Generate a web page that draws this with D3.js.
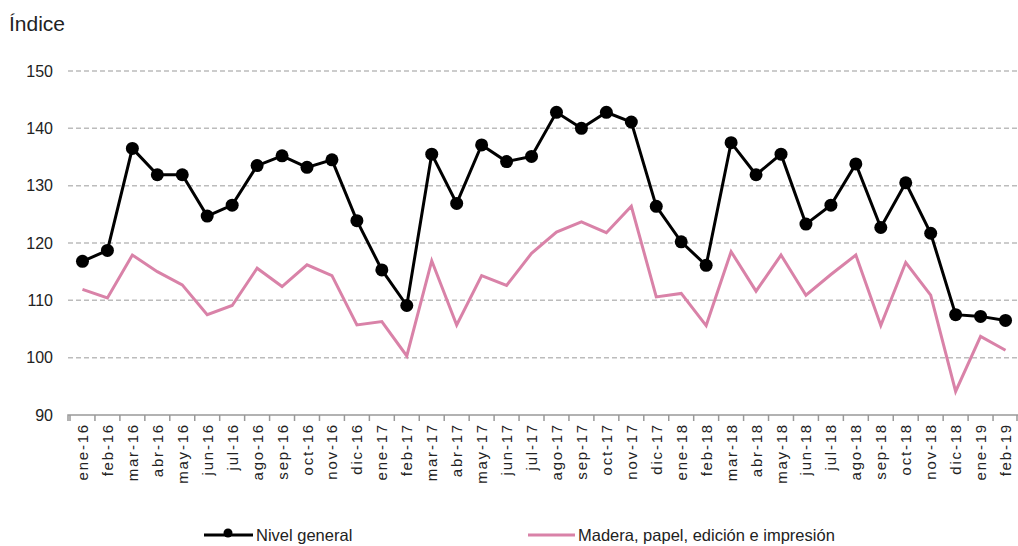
<!DOCTYPE html>
<html>
<head>
<meta charset="utf-8">
<script src="https://cdn.jsdelivr.net/npm/d3@7"></script>
<style>
  body { margin: 0; background: #fff; }
  text { font-family: "Liberation Sans", Arial, sans-serif; fill: #222; }
</style>
</head>
<body>
<div id="chart"></div>
<script>
// months shown on the x axis
var months = ["ene-16","feb-16","mar-16","abr-16","may-16","jun-16","jul-16","ago-16","sep-16","oct-16","nov-16","dic-16",
              "ene-17","feb-17","mar-17","abr-17","may-17","jun-17","jul-17","ago-17","sep-17","oct-17","nov-17","dic-17",
              "ene-18","feb-18","mar-18","abr-18","may-18","jun-18","jul-18","ago-18","sep-18","oct-18","nov-18","dic-18",
              "ene-19","feb-19"];
var nivelGeneral = [116.8,118.7,136.5,131.9,131.9,124.7,126.6,133.5,135.2,133.2,134.5,123.9,
                    115.3,109.1,135.5,126.9,137.1,134.2,135.1,142.8,140.0,142.8,141.1,126.4,
                    120.2,116.1,137.5,131.9,135.5,123.3,126.6,133.8,122.7,130.5,121.7,107.5,
                    107.2,106.5];
var madera = [111.9,110.4,117.9,115.0,112.7,107.5,109.1,115.6,112.4,116.2,114.3,105.7,
              106.3,100.3,116.9,105.7,114.3,112.6,118.2,121.9,123.7,121.8,126.4,110.6,
              111.2,105.6,118.5,111.6,117.9,110.9,114.5,117.9,105.6,116.6,110.9,94.1,
              103.7,101.3];
var yTicks = [90,100,110,120,130,140,150];
var seriesNames = ["Nivel general","Madera, papel, edición e impresión"];

var W = 1018, H = 546;
var margin = {top: 71, right: 0, bottom: 131, left: 68};
var pink = "#d982a8";

var svg = d3.select("#chart").append("svg").attr("width", W).attr("height", H);

var x = d3.scaleBand().domain(months).range([margin.left + 2, W]);
var y = d3.scaleLinear().domain([90, 150]).range([H - margin.bottom, margin.top]);

// title
svg.append("text").attr("x", 9).attr("y", 31).style("font-size", "21px").text("Índice");

// grid
svg.append("g").selectAll("line").data(yTicks.filter(function(d){ return d > 90; })).enter().append("line")
    .attr("x1", margin.left).attr("x2", W)
    .attr("y1", function(d){ return y(d); }).attr("y2", function(d){ return y(d); })
    .attr("stroke", "#bcbcbc").attr("stroke-width", 1.5).attr("stroke-dasharray", "5,3");

// y labels
svg.append("g").selectAll("text").data(yTicks).enter().append("text")
    .attr("x", 53).attr("y", function(d){ return y(d) + 5.5; })
    .attr("text-anchor", "end").style("font-size", "16px")
    .text(function(d){ return d; });

// x axis
var xAxis = d3.axisBottom(x).tickSize(6).tickFormat("");
var gx = svg.append("g").attr("transform", "translate(0," + y(90) + ")").call(xAxis);
gx.select(".domain").attr("stroke", "#999").attr("stroke-width", 1.5).attr("d", "M" + margin.left + ",6V0H" + W);
gx.selectAll(".tick line").attr("stroke", "#999").attr("stroke-width", 1.5)
    .attr("transform", "translate(" + (-x.bandwidth() / 2) + ",0)");
svg.append("line").attr("x1", W - 1).attr("x2", W - 1).attr("y1", y(90)).attr("y2", y(90) + 6)
    .attr("stroke", "#999").attr("stroke-width", 1.5);

svg.append("g").selectAll("text").data(months).enter().append("text")
    .attr("transform", function(d){ return "translate(" + (x(d) + x.bandwidth() / 2 + 5.5) + "," + (y(90) + 8) + ") rotate(-90)"; })
    .attr("text-anchor", "end").style("font-size", "15px").style("letter-spacing", "1.8px")
    .text(function(d){ return d; });

// lines
var line = d3.line().x(function(d, i){ return x(months[i]) + x.bandwidth() / 2; }).y(function(d){ return y(d); });

svg.append("path").datum(madera).attr("d", line)
    .attr("fill", "none").attr("stroke", pink).attr("stroke-width", 3).attr("stroke-linejoin", "miter");

svg.append("path").datum(nivelGeneral).attr("d", line)
    .attr("fill", "none").attr("stroke", "#000").attr("stroke-width", 3);

svg.append("g").selectAll("circle").data(nivelGeneral).enter().append("circle")
    .attr("cx", function(d, i){ return x(months[i]) + x.bandwidth() / 2; })
    .attr("cy", function(d){ return y(d); })
    .attr("r", 6.5).attr("fill", "#000");

// legend
var lg = svg.append("g");
lg.append("line").attr("x1", 204).attr("x2", 253).attr("y1", 535).attr("y2", 535).attr("stroke", "#000").attr("stroke-width", 3);
lg.append("circle").attr("cx", 228).attr("cy", 533).attr("r", 4.5).attr("fill", "#000");
lg.append("text").attr("x", 256).attr("y", 541).style("font-size", "16.5px").text(seriesNames[0]);
lg.append("line").attr("x1", 528).attr("x2", 575).attr("y1", 535).attr("y2", 535).attr("stroke", pink).attr("stroke-width", 3);
lg.append("text").attr("x", 578).attr("y", 541).style("font-size", "16.5px").text(seriesNames[1]);
</script>
</body>
</html>
